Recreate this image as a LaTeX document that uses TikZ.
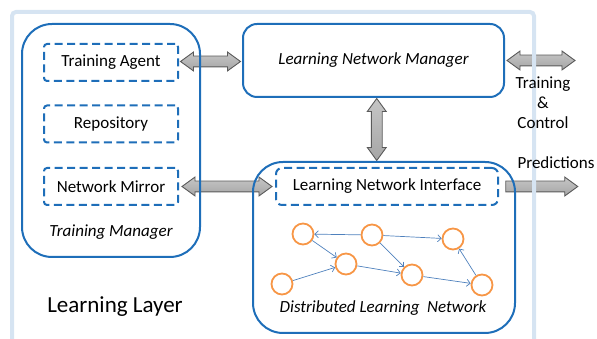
\documentclass[tikz,border=0pt]{standalone}
\usepackage{fontspec}
\setmainfont{Carlito}
\usetikzlibrary{
	arrows.meta,
	calc,
	backgrounds,
	shapes.arrows,
	positioning
}
\definecolor{BoxBlue}{RGB}{30,110,185}
\definecolor{FrameBlue}{RGB}{214,228,242}
\definecolor{NetOrange}{RGB}{247,150,70}
\definecolor{LinkBlue}{RGB}{79,129,189}
\definecolor{ArrowGray}{RGB}{90,90,90}

\begin{document}
\begin{tikzpicture}[x=1pt, y=1pt,
	font=\fontsize{17}{21}\selectfont,
	box/.style={draw=BoxBlue, line width=2pt, rounded corners=#1},
	box/.default=30pt,
	dashbox/.style={draw=BoxBlue, line width=2pt, dash pattern=on 8pt off 4.5pt,
		rounded corners=3pt, minimum width=134pt, minimum height=37pt},
	neuron/.style={circle, draw=NetOrange, line width=1.8pt, minimum size=21pt, inner sep=0pt},
	link/.style={draw=LinkBlue, line width=0.7pt, -{Straight Barb[length=3.5pt, width=7pt]}},
	fatarrow/.style={draw=ArrowGray, line width=0.9pt, top color=gray!45, middle color=gray!8,
		bottom color=gray!70, inner xsep=0pt, inner ysep=5pt, minimum height=#1},
	dblarrow/.style={fatarrow=#1, double arrow, double arrow head extend=4pt,
		double arrow tip angle=72},
	onearrow/.style={fatarrow=#1, single arrow, single arrow head extend=4pt,
		single arrow tip angle=72}
]
	\useasboundingbox (0,0) rectangle (597,339);

	% boxes of the layer
	\node[box, minimum width=178pt, minimum height=233pt] (tm) at (111,198.5) {};
	\node[box=14pt, minimum width=261pt, minimum height=73pt] (lnm) at (373.5,278.5) {};
	\node[box, minimum width=262pt, minimum height=171pt] (dln) at (384,91.5) {};

	\node[dashbox] (ta) at (111,276.5) {Training Agent};
	\node[dashbox] (repo) at (111,215) {Repository};
	\node[dashbox] (nm) at (111,152.5) {Network Mirror};
	\node[dashbox, minimum width=222pt, rounded corners=6pt] (lni) at (387,152.5) {Learning Network Interface};

	\coordinate (ctrl) at (577,278.5);
	\coordinate (pred) at (577,152.5);

	% block arrows and frame go under the box outlines
	\begin{scope}[on background layer]
		\node[dblarrow=60pt] at ($(ta.east)!0.5!(lnm.west)$) {};
		\node[dblarrow=68pt] at ($(lnm.east)!0.5!(ctrl)$) {};
		\node[dblarrow=62pt, rotate=90] at ($(lnm.south)!0.5!(dln.north)+(-2,0)$) {};
		\node[dblarrow=90pt] at ($(nm.east)!0.5!(lni.west)$) {};
		\node[onearrow=72pt] at ($(lni.east)!0.5!(pred)$) {};
		\draw[FrameBlue, line width=4pt, rounded corners=4pt] (12,-10) -- (12,327) -- (534,327) -- (534,-10);
	\end{scope}

	% labels
	\node at (lnm) {\itshape Learning Network Manager};
	\node at (111,107) {\itshape Training Manager};
	\node[font=\fontsize{23}{27}\selectfont] at (115,32) {Learning Layer};
	\node at (383,31) {\itshape Distributed Learning~ Network};
	\node[align=center] at (543,236) {Training\\[-1pt]\&\\[-1pt]Control};
	\node at (556,176) {Predictions};

	% distributed network
	\node[neuron] (n1) at (303,105) {};
	\node[neuron] (n2) at (372,104) {};
	\node[neuron] (n3) at (453,100) {};
	\node[neuron] (n4) at (346,75) {};
	\node[neuron] (n5) at (412,64) {};
	\node[neuron] (n6) at (282,55) {};
	\node[neuron] (n7) at (482,54) {};
	\draw[link] (n2) -- (n1);
	\draw[link] (n2) -- (n3);
	\draw[link] (n1) -- (n4);
	\draw[link] (n2) -- (n5);
	\draw[link] (n6) -- (n4);
	\draw[link] (n4) -- (n5);
	\draw[link] (n5) -- (n7);
	\draw[link] (n7) -- (n3);
\end{tikzpicture}
\end{document}
